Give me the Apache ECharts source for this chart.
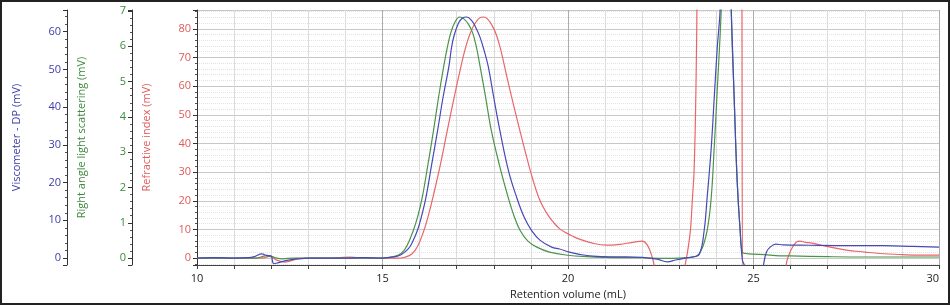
<!DOCTYPE html>
<html>
<head>
<meta charset="utf-8">
<script src="https://cdn.jsdelivr.net/npm/echarts@6/dist/echarts.min.js"></script>
<style>
  html, body { margin: 0; padding: 0; background: #fff; }
  #chart { position: absolute; left: 0; top: 0; width: 950px; height: 305px; }
  #frame { position: absolute; left: 0; top: 0; width: 950px; height: 305px; box-sizing: border-box; border: 2px solid #222; pointer-events: none; }
</style>
</head>
<body>
<div id="chart"></div>
<div id="frame"></div>
<script>
// refractive index (mV)
var riVol = [10.0, 10.5, 11.0, 11.5, 11.8, 11.97, 12.15, 12.37, 12.69, 13.1, 13.6, 14.1, 14.3, 14.6, 15.0, 15.4, 15.6, 15.8, 15.95, 16.1, 16.24, 16.37, 16.55, 16.74, 16.93, 17.1, 17.24, 17.37, 17.5, 17.62, 17.72, 17.84, 17.96, 18.08, 18.2, 18.35, 18.53, 18.71, 18.9, 19.05, 19.2, 19.33, 19.46, 19.62, 19.78, 19.95, 20.1, 20.31, 20.66, 21.04, 21.39, 21.74, 22.0, 22.14, 22.27, 22.33, 22.4, 23.1, 23.16, 23.22, 23.3, 23.35, 23.4, 23.45, 23.48, 23.55, 24.6, 24.68, 24.72, 25.85, 25.88, 25.95, 26.05, 26.15, 26.25, 26.4, 26.58, 27.0, 27.5, 28.0, 28.4, 29.0, 29.5, 30.0];
var riVal = [0, 0.1, 0, 0, 0.1, 0.6, -0.7, -1.4, -0.4, 0, 0, 0.3, 0.2, 0, 0, 0, 0.3, 1.5, 4.2, 9.0, 15.0, 21.8, 32.0, 44.1, 56.0, 66.0, 73.5, 78.6, 82.0, 83.8, 84.1, 83.3, 81.0, 77.5, 72.0, 63.4, 53.5, 44.1, 34.5, 27.5, 21.5, 17.8, 15.0, 12.3, 10.2, 8.8, 7.8, 6.6, 5.2, 4.5, 4.8, 5.5, 5.9, 4.5, 0.3, -3.1, -10, -10, -2.4, 2, 9.7, 20, 31, 60, 95, 250, 250, 120, -10, -10, -2.4, 1.0, 3.8, 5.5, 5.9, 5.5, 5.2, 4.0, 2.8, 2.1, 1.6, 1.2, 1.0, 1.0];

// right angle light scattering (mV)
var lsVol = [10.0, 11.0, 11.6, 11.85, 12.0, 12.15, 12.3, 12.6, 14.0, 15.0, 15.3, 15.5, 15.65, 15.83, 15.95, 16.07, 16.22, 16.37, 16.51, 16.65, 16.75, 16.84, 16.96, 17.08, 17.2, 17.32, 17.43, 17.53, 17.63, 17.78, 17.94, 18.16, 18.39, 18.55, 18.71, 18.92, 19.16, 19.5, 20.0, 20.5, 21.0, 22.0, 22.6, 23.0, 23.4, 23.59, 23.75, 23.86, 23.94, 24.02, 24.13, 24.25, 24.35, 24.4, 24.48, 24.56, 24.64, 24.7, 24.8, 25.0, 25.3, 25.6, 26.0, 27.0, 28.0, 30.0];
var lsVal = [0, 0, 0, 0.06, 0.05, 0, -0.02, 0, 0, 0, 0.04, 0.13, 0.33, 0.78, 1.18, 1.71, 2.62, 3.58, 4.55, 5.43, 5.98, 6.38, 6.70, 6.83, 6.77, 6.62, 6.38, 5.98, 5.43, 4.55, 3.58, 2.60, 1.71, 1.18, 0.78, 0.48, 0.31, 0.17, 0.08, 0.04, 0.02, 0.01, -0.01, 0, 0.03, 0.22, 0.78, 1.71, 3.11, 4.70, 7.03, 11, 11, 7.03, 4.5, 2.18, 0.78, 0.17, 0.13, 0.11, 0.1, 0.07, 0.06, 0.04, 0.03, 0.03];

// viscometer - DP (mV)
var dpVol = [10.0, 10.5, 11.0, 11.4, 11.55, 11.75, 11.88, 11.99, 12.07, 12.2, 12.42, 12.69, 13.0, 14.0, 14.5, 15.0, 15.3, 15.5, 15.7, 15.82, 15.94, 16.05, 16.17, 16.32, 16.48, 16.63, 16.79, 16.86, 16.93, 17.05, 17.15, 17.27, 17.4, 17.52, 17.63, 17.74, 17.85, 18.0, 18.17, 18.4, 18.62, 18.82, 19.02, 19.25, 19.56, 19.77, 20.04, 20.31, 20.66, 21.13, 21.57, 22.0, 22.4, 22.68, 22.9, 23.16, 23.35, 23.54, 23.67, 23.75, 23.86, 23.94, 24.02, 24.1, 24.2, 24.3, 24.4, 24.48, 24.56, 24.64, 24.7, 24.75, 24.8, 25.2, 25.27, 25.35, 25.45, 25.6, 25.8, 26.5, 27.5, 28.5, 29.3, 30.0];
var dpVal = [0, 0.1, 0, 0.1, 0.4, 1.1, 0.7, 0.6, -1.5, -1.2, -0.6, -0.2, 0, 0, 0.1, 0, 0.3, 0.9, 2.5, 4.5, 7.3, 11.0, 16.0, 24.5, 33.5, 42.5, 50.8, 55.8, 59.0, 62.3, 63.6, 63.9, 63.0, 61.0, 58.5, 55.0, 50.8, 42.5, 33.5, 23.0, 16.0, 10.8, 7.3, 4.7, 2.9, 2.4, 1.6, 1.0, 0.5, 0.3, 0.3, 0.2, -0.3, -1.0, -0.5, 0, 0.3, 1.0, 7.3, 16.0, 29.1, 42.2, 55.3, 65.8, 95, 95, 65.8, 42.2, 20.4, 7.3, -0.5, -1.8, -8, -8, -1.8, 1.6, 2.9, 3.7, 3.5, 3.4, 3.3, 3.3, 3.1, 2.9];

var font = '"Open Sans", sans-serif';

function pairs(xs, ys) {
  return xs.map(function (x, i) { return [x, ys[i]]; });
}

function stepLabel(step) {
  return function (v) {
    var r = Math.round(v / step) * step;
    return Math.abs(r - v) < 1e-6 ? String(Math.round(r)) : '';
  };
}

function yAxis(name, color, min, max, offset, step, grid) {
  return {
    type: 'value',
    position: 'left',
    offset: offset,
    min: min,
    max: max,
    splitNumber: 8,
    name: name,
    nameLocation: 'middle',
    nameGap: 45,
    nameTextStyle: { color: color, fontFamily: font, fontSize: 11 },
    axisLine: { show: true, lineStyle: { color: '#333', width: 1 } },
    axisTick: { show: true, length: 4, lineStyle: { color: '#333' } },
    minorTick: { show: true, splitNumber: 5, length: 2, lineStyle: { color: '#555' } },
    axisLabel: { color: color, fontFamily: font, fontSize: 11, margin: 6, formatter: stepLabel(step) },
    splitLine: { show: grid, lineStyle: { color: '#c8c8c8' } },
    minorSplitLine: { show: grid, lineStyle: { color: '#e2e2e2', type: 'dotted' } }
  };
}

function line(name, data, axis, color) {
  return {
    name: name,
    type: 'line',
    yAxisIndex: axis,
    data: data,
    showSymbol: false,
    smooth: 0.4,
    clip: true,
    lineStyle: { color: color, width: 1.2 },
    itemStyle: { color: color }
  };
}

var chart = echarts.init(document.getElementById('chart'));

var option = {
  backgroundColor: '#fff',
  animation: false,
  grid: { left: 197, right: 11, top: 10, bottom: 37 },
  xAxis: {
    type: 'value',
    min: 10,
    max: 30,
    interval: 1,
    name: 'Retention volume (mL)',
    nameLocation: 'middle',
    nameGap: 24,
    nameTextStyle: { color: '#222', fontFamily: font, fontSize: 11 },
    axisLine: { show: true, onZero: false, lineStyle: { color: '#444' } },
    axisTick: { show: true, length: 4, lineStyle: { color: '#444' } },
    axisLabel: { color: '#222', fontFamily: font, fontSize: 11, margin: 8, formatter: stepLabel(5), alignMaxLabel: 'right' },
    splitLine: { show: true, lineStyle: { color: ['#acacac', '#dcdcdc', '#dcdcdc', '#dcdcdc', '#dcdcdc'] } }
  },
  yAxis: [
    yAxis('Refractive index (mV)', '#e05a5a', -2.414, 86.55, 0, 10, true),
    yAxis('Right angle light scattering (mV)', '#3c8a3c', -0.196, 7.028, 65, 1, false),
    yAxis('Viscometer - DP (mV)', '#3c3ca8', -1.834, 65.76, 130, 10, false)
  ],
  series: [
    line('Refractive index', pairs(riVol, riVal), 0, '#e8666a'),
    line('Right angle light scattering', pairs(lsVol, lsVal), 1, '#4a944a'),
    line('Viscometer - DP', pairs(dpVol, dpVal), 2, '#4848b8')
  ]
};

chart.setOption(option);
</script>
</body>
</html>
